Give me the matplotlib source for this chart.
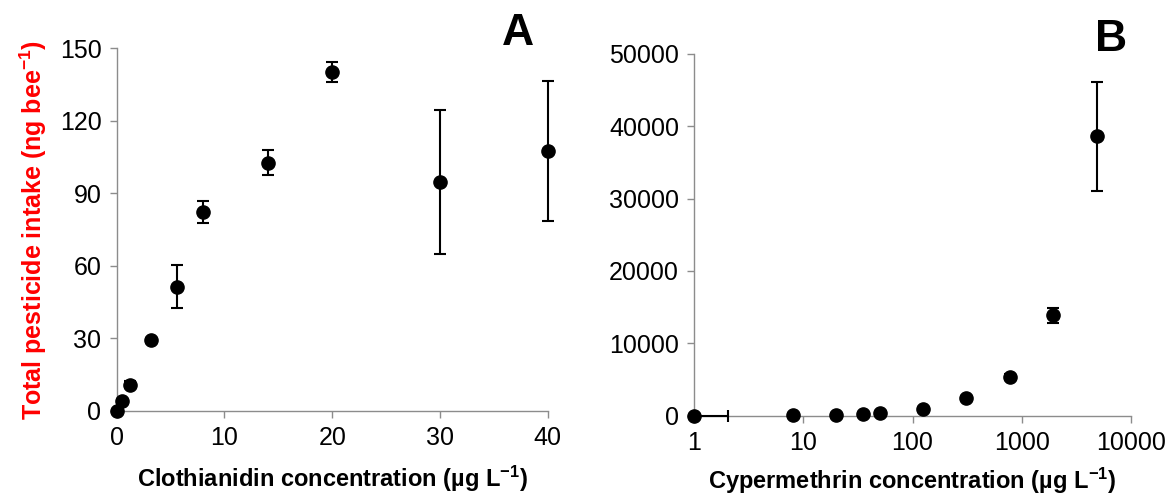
import matplotlib
matplotlib.use('Agg')
import matplotlib.pyplot as plt
import numpy as np

plt.rcParams['font.family'] = ['Liberation Sans', 'DejaVu Sans']
plt.rcParams['mathtext.default'] = 'regular'

# panel A - clothianidin
clo_conc = [0, 0.46, 1.23, 3.2, 5.6, 8, 14, 20, 30, 40]
clo_intake = [0, 4.0, 10.9, 29.2, 51.4, 82.3, 102.7, 140.3, 94.6, 107.5]
clo_err = [0.3, 0.8, 1.5, 1.0, 8.8, 4.6, 5.3, 4.1, 29.7, 29.0]

# panel B - cypermethrin
cyp_conc = [1, 8, 20, 35, 50, 125, 312, 781, 1953, 4883]
cyp_intake = [0, 120, 130, 220, 330, 930, 2400, 5350, 13870, 38600]
cyp_err = [0, 60, 40, 60, 80, 150, 300, 450, 1000, 7500]
cyp_xerr_lo = [0, 0, 0, 0, 0, 0, 0, 0, 0, 0]
cyp_xerr_hi = [1.02, 0, 0, 0, 0, 0, 0, 0, 0, 0]

fig = plt.figure(figsize=(11.73, 4.96), dpi=100)
axA = fig.add_axes([0.0995, 0.1714, 0.3675, 0.7312])
axB = fig.add_axes([0.5919, 0.1619, 0.3721, 0.7298])

grey = '#8c8c8c'
for ax in (axA, axB):
    for s in ['top', 'right']:
        ax.spines[s].set_visible(False)
    for s in ['left', 'bottom']:
        ax.spines[s].set_color(grey)
        ax.spines[s].set_linewidth(1.0)
    ax.tick_params(axis='both', which='major', direction='out', length=5,
                   width=1.0, color=grey, labelsize=18, pad=6)
    ax.tick_params(axis='both', which='minor', length=0)

axA.errorbar(clo_conc, clo_intake, yerr=clo_err, fmt='o', color='black',
             markersize=9.5, elinewidth=1.5, capsize=4.3, capthick=1.5,
             clip_on=False, zorder=3)
axA.set_xlim(0, 40)
axA.set_ylim(0, 150)
axA.set_xticks([0, 10, 20, 30, 40])
axA.set_yticks([0, 30, 60, 90, 120, 150])
axA.set_xlabel('Clothianidin concentration (µg L$^{-1}$)', fontsize=17,
               fontweight='bold', labelpad=10)
axA.set_ylabel('Total pesticide intake (ng bee$^{-1}$)', fontsize=18,
               fontweight='bold', color='red', labelpad=8)
axA.text(0.93, 1.04, 'A', transform=axA.transAxes, fontsize=32,
         fontweight='bold', ha='center', va='center')

axB.errorbar(cyp_conc, cyp_intake, yerr=cyp_err,
             xerr=[cyp_xerr_lo, cyp_xerr_hi], fmt='o', color='black',
             markersize=9.5, elinewidth=1.5, capsize=4.3, capthick=1.5,
             clip_on=False, zorder=3)
axB.set_xscale('log')
axB.set_xlim(1, 10000)
axB.set_ylim(0, 50000)
axB.set_xticks([1, 10, 100, 1000, 10000])
axB.set_xticklabels(['1', '10', '100', '1000', '10000'])
axB.set_yticks([0, 10000, 20000, 30000, 40000, 50000])
axB.set_xlabel('Cypermethrin concentration (µg L$^{-1}$)', fontsize=17,
               fontweight='bold', labelpad=8)
axB.text(0.955, 1.04, 'B', transform=axB.transAxes, fontsize=32,
         fontweight='bold', ha='center', va='center')

fig.savefig('out.png', dpi=100)
